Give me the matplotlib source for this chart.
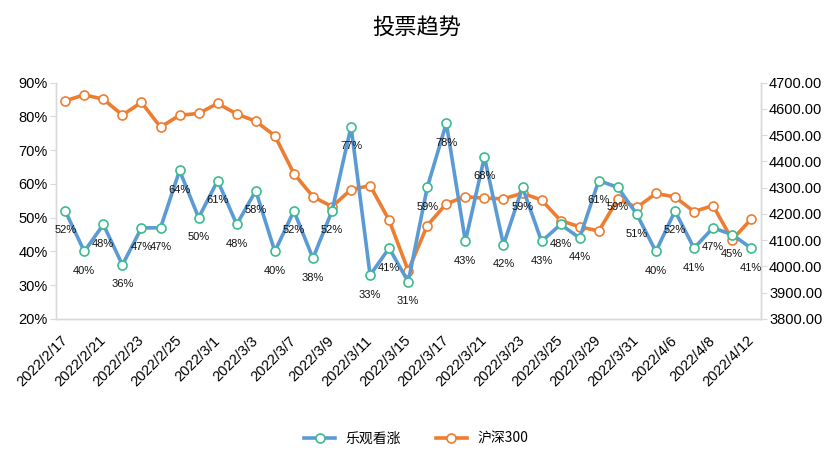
import matplotlib
matplotlib.use('Agg')
import matplotlib.pyplot as plt
from matplotlib.ticker import FuncFormatter, MultipleLocator

plt.rcParams['font.family'] = ['Liberation Sans', 'Noto Sans CJK SC', 'DejaVu Sans']

dates = ['2022/2/17', '2022/2/18', '2022/2/21', '2022/2/22', '2022/2/23', '2022/2/24',
         '2022/2/25', '2022/2/28', '2022/3/1', '2022/3/2', '2022/3/3', '2022/3/4',
         '2022/3/7', '2022/3/8', '2022/3/9', '2022/3/10', '2022/3/11', '2022/3/14',
         '2022/3/15', '2022/3/16', '2022/3/17', '2022/3/18', '2022/3/21', '2022/3/22',
         '2022/3/23', '2022/3/24', '2022/3/25', '2022/3/28', '2022/3/29', '2022/3/30',
         '2022/3/31', '2022/4/1', '2022/4/6', '2022/4/7', '2022/4/8', '2022/4/11',
         '2022/4/12']
bullish = [52, 40, 48, 36, 47, 47, 64, 50, 61, 48, 58, 40, 52, 38, 52, 77, 33, 41, 31,
           59, 78, 43, 68, 42, 59, 43, 48, 44, 61, 59, 51, 40, 52, 41, 47, 45, 41]
hs300 = [4631, 4654, 4637, 4577, 4625, 4531, 4576, 4583, 4621, 4581, 4553, 4498, 4354,
         4266, 4228, 4293, 4308, 4176, 3984, 4156, 4239, 4266, 4260, 4258, 4279, 4253,
         4175, 4151, 4135, 4256, 4225, 4278, 4265, 4209, 4232, 4102, 4180]

blue = '#5B9BD5'
green = '#3DBB8E'
orange = '#ED7D31'
grey = '#D9D9D9'

fig = plt.figure(figsize=(8.33, 4.66), dpi=100)
ax = fig.add_axes([0.0669, 0.3155, 0.8463, 0.507])
ax2 = ax.twinx()

x = list(range(len(dates)))
l1, = ax.plot(x, bullish, color=blue, lw=2.6, marker='o', ms=6.5,
              mfc='white', mec=green, mew=1.2, zorder=3, label='乐观看涨')
l2, = ax2.plot(x, hs300, color=orange, lw=2.6, marker='o', ms=6.5,
               mfc='white', mec=orange, mew=1.2, zorder=2, label='沪深300')
ax.set_zorder(ax2.get_zorder() + 1)
ax.patch.set_visible(False)

for xi, v in zip(x, bullish):
    ax.annotate(f'{v}%', (xi, v), xytext=(0, -14), textcoords='offset points',
                ha='center', va='center', fontsize=8, color='#111111')

ax.set_xlim(-0.5, len(dates) - 0.5)
ax.set_ylim(20, 90)
ax.yaxis.set_major_locator(MultipleLocator(10))
ax.yaxis.set_major_formatter(FuncFormatter(lambda v, p: f'{v:.0f}%'))
ax2.set_ylim(3800, 4700)
ax2.yaxis.set_major_locator(MultipleLocator(100))
ax2.yaxis.set_major_formatter(FuncFormatter(lambda v, p: f'{v:.2f}'))

ax.set_xticks(x[::2])
ax.set_xticklabels(dates[::2], rotation=45, ha='right', va='center',
                   rotation_mode='anchor', fontsize=10.5)
ax.tick_params(axis='x', length=0, pad=14)
ax.tick_params(axis='y', labelsize=10.5, length=4, color=grey, pad=2)
ax2.tick_params(axis='y', labelsize=10.5, length=4, color=grey, pad=2)

for a in (ax, ax2):
    a.spines['top'].set_visible(False)
    for s in ('left', 'right', 'bottom'):
        a.spines[s].set_color(grey)
        a.spines[s].set_linewidth(1)

fig.text(0.5, 0.942, '投票趋势', ha='center', va='center', fontsize=16,
         family=['Noto Sans CJK SC', 'DejaVu Sans'])

fig.legend(handles=[l1, l2], loc='center', bbox_to_anchor=(0.5, 0.058), ncol=2,
           frameon=False, handlelength=2.2, columnspacing=2.5, numpoints=1,
           prop={'family': ['Noto Sans CJK SC', 'DejaVu Sans'], 'size': 10})

fig.savefig('out.png', dpi=100)
